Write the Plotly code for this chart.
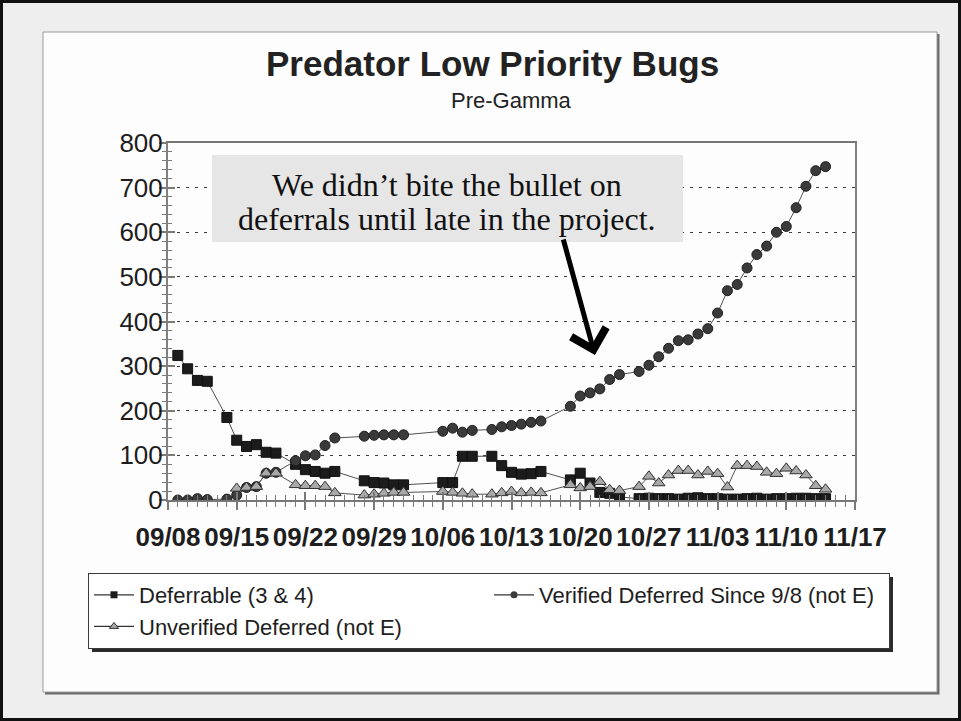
import plotly.graph_objects as go

# ---- data -------------------------------------------------------------
report_dates = [
    "1998-09-09", "1998-09-10", "1998-09-11", "1998-09-12",
    "1998-09-14", "1998-09-15", "1998-09-16", "1998-09-17", "1998-09-18", "1998-09-19",
    "1998-09-21", "1998-09-22", "1998-09-23", "1998-09-24", "1998-09-25",
    "1998-09-28", "1998-09-29", "1998-09-30", "1998-10-01", "1998-10-02",
    "1998-10-06", "1998-10-07", "1998-10-08", "1998-10-09",
    "1998-10-11", "1998-10-12", "1998-10-13", "1998-10-14", "1998-10-15", "1998-10-16",
    "1998-10-19", "1998-10-20", "1998-10-21", "1998-10-22", "1998-10-23", "1998-10-24",
    "1998-10-26", "1998-10-27", "1998-10-28", "1998-10-29", "1998-10-30", "1998-10-31",
    "1998-11-01", "1998-11-02", "1998-11-03", "1998-11-04", "1998-11-05", "1998-11-06",
    "1998-11-07", "1998-11-08", "1998-11-09", "1998-11-10", "1998-11-11", "1998-11-12",
    "1998-11-13", "1998-11-14",
]

deferrable = [
    324, 294, 268, 266,
    185, 134, 120, 124, 107, 105,
    80, 68, 64, 60, 64,
    43, 39, 38, 34, 34,
    39, 39, 98, 98,
    98, 77, 62, 58, 59, 64,
    45, 60, 38, 17, 15, 7,
    3, 4, 3, 3, 2, 4,
    5, 3, 3, 2, 2, 3,
    4, 2, 3, 3, 4, 4,
    3, 3,
]

verified_deferred = [
    0, 0, 3, 1,
    2, 11, 28, 30, 60, 62,
    88, 99, 101, 122, 139,
    143, 145, 146, 146, 146,
    154, 161, 152, 156,
    158, 164, 167, 170, 174, 177,
    210, 233, 240, 249, 270, 281,
    288, 302, 321, 340, 357, 359,
    372, 384, 419, 469, 483, 520,
    550, 569, 600, 613, 655, 703,
    738, 747,
]

unverified_deferred = [
    None, None, None, None,
    None, 26, 28, 30, 60, 60,
    34, 32, 32, 30, 16,
    11, 13, 15, 17, 17,
    19, 17, 15, 13,
    13, 16, 19, 16, 17, 16,
    34, 27, 30, 41, 23, 21,
    30, 53, 38, 56, 66, 66,
    56, 64, 59, 29, 77, 77,
    75, 62, 59, 71, 65, 56,
    32, 24,
]

series_names = [
    "Deferrable (3 & 4)",
    "Verified Deferred Since 9/8 (not E)",
    "Unverified Deferred (not E)",
]

y_range = [0, 800]
x_range = ["1998-09-08", "1998-11-17"]
DAY_MS = 86400000

# ---- geometry helpers (pixel -> paper) ---------------------------------
W, H = 961, 721
L, R, T, B = 168, 106, 143, 221
PW, PH = W - L - R, H - T - B


def px(x):
    return (x - L) / PW


def py(y):
    return (T + PH - y) / PH


SANS = "Liberation Sans, Arial, sans-serif"
SERIF = "Liberation Serif, Times New Roman, serif"
LINE = "#505050"

styles = [
    dict(symbol="square", size=10, color="#1c1c1c", line=dict(color="#111111", width=1)),
    dict(symbol="circle", size=10, color="#3a3a3a", line=dict(color="#1e1e1e", width=1)),
    dict(symbol="triangle-up", size=11, color="#a9a9a9", line=dict(color="#303030", width=1)),
]
legend_styles = [
    dict(symbol="square", size=7, color="#1c1c1c"),
    dict(symbol="circle", size=7, color="#3a3a3a"),
    dict(symbol="triangle-up", size=8, color="#a9a9a9", line=dict(color="#303030", width=1)),
]

fig = go.Figure()
for name, vals, st in zip(series_names, [deferrable, verified_deferred, unverified_deferred], styles):
    fig.add_trace(go.Scatter(
        x=report_dates, y=vals, name=name, mode="lines+markers",
        line=dict(color=LINE, width=1), marker=st, showlegend=False,
        connectgaps=False,
    ))

# legend entries with small symbols
for name, st in zip(series_names, legend_styles):
    fig.add_trace(go.Scatter(
        x=[None], y=[None], name=name, mode="lines+markers",
        line=dict(color="#333333", width=1.2), marker=st,
    ))

# overlay axes carry the inward half of the crossing tick marks
fig.add_trace(go.Scatter(x=[], y=[], xaxis="x2", yaxis="y2", showlegend=False, hoverinfo="skip"))

tick_col = "#7a7a7a"
fig.update_layout(
    width=W, height=H,
    margin=dict(l=L, r=R, t=T, b=B, pad=0),
    paper_bgcolor="#eeeeee",
    plot_bgcolor="white",
    showlegend=True,
    xaxis=dict(
        type="date", range=x_range, tick0=x_range[0], dtick=7 * DAY_MS,
        tickformat="%m/%d", ticks="outside", ticklen=8, tickwidth=2, tickcolor=tick_col,
        minor=dict(dtick=DAY_MS, tick0=x_range[0], ticks="outside", ticklen=5,
                   tickwidth=1, tickcolor=tick_col, showgrid=False),
        showline=True, linecolor="#777777", linewidth=2, mirror=True,
        showgrid=False, zeroline=False, ticklabelstandoff=5,
        tickfont=dict(family=SANS, size=26, color="#1e1e1e", weight="bold"),
    ),
    yaxis=dict(
        range=y_range, dtick=100, ticks="outside", ticklen=7, tickwidth=1.5,
        tickcolor=tick_col,
        minor=dict(dtick=20, ticks="outside", ticklen=4, tickwidth=1, tickcolor=tick_col,
                   showgrid=False),
        showline=True, linecolor="#808080", linewidth=2, mirror=True,
        showgrid=True, gridcolor="#3c3c3c", gridwidth=1.4, griddash="3px,6px",
        zeroline=False, ticklabelstandoff=-9,
        tickfont=dict(family=SANS, size=26, color="#1e1e1e"),
    ),
    xaxis2=dict(
        type="date", range=x_range, overlaying="x", anchor="y2", side="bottom",
        tick0=x_range[0], dtick=7 * DAY_MS, ticks="inside", ticklen=8, tickwidth=2,
        tickcolor=tick_col,
        minor=dict(dtick=DAY_MS, tick0=x_range[0], ticks="inside", ticklen=5,
                   tickwidth=1, tickcolor=tick_col, showgrid=False),
        showticklabels=False, showgrid=False, showline=False, zeroline=False,
    ),
    yaxis2=dict(
        range=y_range, overlaying="y", anchor="x2", side="left",
        dtick=100, ticks="inside", ticklen=7, tickwidth=1.5, tickcolor=tick_col,
        minor=dict(dtick=20, ticks="inside", ticklen=4, tickwidth=1, tickcolor=tick_col,
                   showgrid=False),
        showticklabels=False, showgrid=False, showline=False, zeroline=False,
    ),
    legend=dict(
        orientation="h", x=px(88), y=py(573), xanchor="left", yanchor="top",
        bgcolor="white", bordercolor="#3a3a3a", borderwidth=1,
        font=dict(family=SANS, size=22, color="#1e1e1e"),
        entrywidth=345, itemwidth=40,
    ),
)

# page frame, white panel with a soft shadow, callout box, legend shadow
fig.update_layout(shapes=[
    dict(type="rect", xref="paper", yref="paper", layer="below",
         x0=px(1.5), x1=px(959.5), y0=py(719.5), y1=py(1.5),
         line=dict(color="#111111", width=3), fillcolor="#eeeeee"),
    dict(type="rect", xref="paper", yref="paper", layer="below",
         x0=px(45), x1=px(939.5), y0=py(694.5), y1=py(34),
         line=dict(width=0), fillcolor="#6a6a6a"),
    dict(type="rect", xref="paper", yref="paper", layer="below",
         x0=px(43), x1=px(937), y0=py(692), y1=py(32),
         line=dict(color="#9a9a9a", width=1), fillcolor="#fdfdfd"),
    dict(type="rect", xref="paper", yref="paper", layer="above",
         x0=px(212), x1=px(683), y0=py(242), y1=py(155),
         line=dict(width=0), fillcolor="#e6e6e6"),
    dict(type="rect", xref="paper", yref="paper", layer="above",
         x0=px(92), x1=px(893), y0=py(652), y1=py(577),
         line=dict(width=0), fillcolor="#2b2b2b"),
])

fig.update_layout(annotations=[
    dict(text="Predator Low Priority Bugs", xref="paper", yref="paper",
         x=px(492), y=py(64), xanchor="center", yanchor="middle", showarrow=False,
         font=dict(family=SANS, size=35, color="#222222", weight="bold")),
    dict(text="Pre-Gamma", xref="paper", yref="paper",
         x=px(511), y=py(100), xanchor="center", yanchor="middle", showarrow=False,
         font=dict(family=SANS, size=22, color="#222222")),
    dict(text="We didn\u2019t bite the bullet on", xref="paper", yref="paper",
         x=px(447), y=py(185), xanchor="center", yanchor="middle", showarrow=False,
         font=dict(family=SERIF, size=32, color="#111111")),
    dict(text="deferrals until late in the project.", xref="paper", yref="paper",
         x=px(447), y=py(219), xanchor="center", yanchor="middle", showarrow=False,
         font=dict(family=SERIF, size=32, color="#111111")),
    dict(text="", x="1998-10-21 12:00", y=325, ax=-32, ay=-117,
         showarrow=True, arrowhead=4, arrowwidth=5, arrowsize=1.4, arrowcolor="#000000"),
])

fig.write_html("out.html")
